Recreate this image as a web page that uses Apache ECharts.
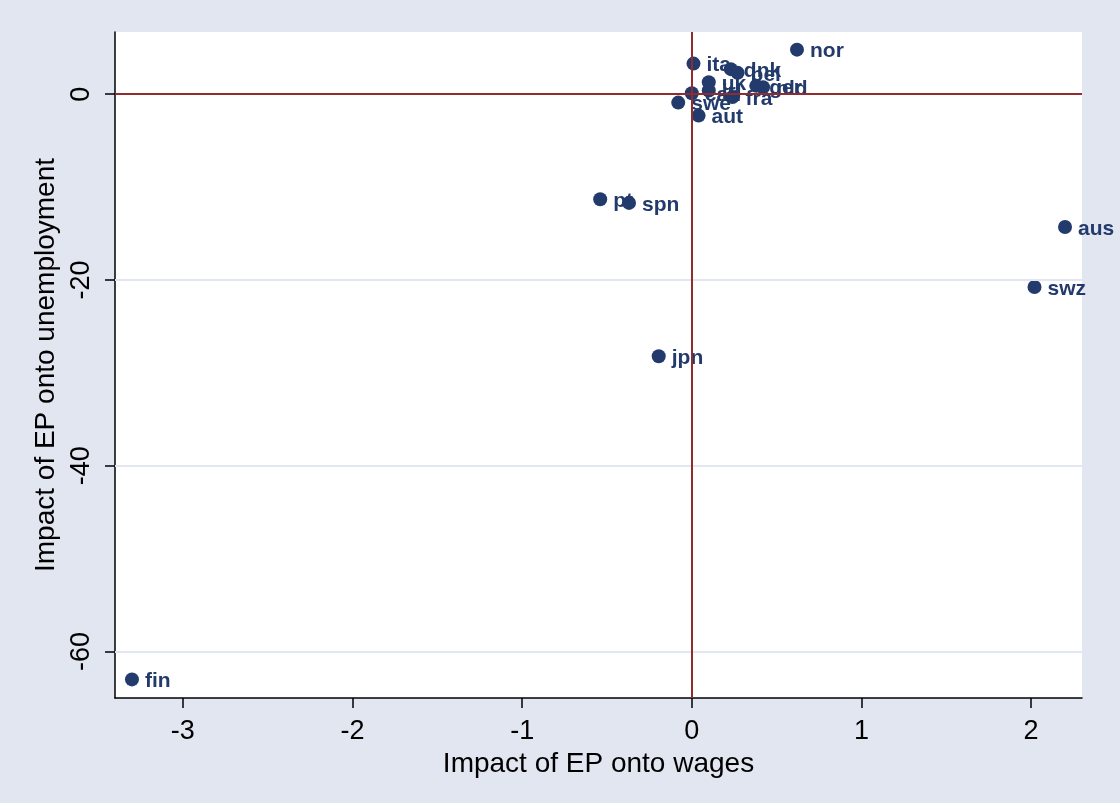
<!DOCTYPE html>
<html>
<head>
<meta charset="UTF-8">
<title>EP impact</title>
<script src="https://cdn.jsdelivr.net/npm/echarts@6/dist/echarts.min.js"></script>
<style>
	html,body{margin:0;padding:0;background:#e1e6f0;}
	#chart{width:1120px;height:803px;}
</style>
</head>
<body>
<div id="chart"></div>
<script>
	// country codes and the two estimated impacts
	var countries = ["ita","dnk","bel","uk","ger","nld","can","irl","fra","swe","aut","nor","pt","spn","jpn","aus","swz","fin"];
	var wageImpact = [0.01,0.23,0.27,0.10,0.38,0.42,0.00,0.10,0.24,-0.08,0.04,0.62,-0.54,-0.37,-0.195,2.20,2.02,-3.30];
	var unempImpact = [3.3,2.7,2.3,1.3,0.9,0.75,0.1,0.4,-0.3,-0.9,-2.3,4.8,-11.3,-11.7,-28.2,-14.3,-20.75,-63.0];
	var xTicks = [-3,-2,-1,0,1,2];
	var yTicks = [-60,-40,-20,0];
	var yGrid = [-20,-40,-60];

	var pts = [];
	for(var i=0;i<countries.length;i++){
		pts.push({value:[wageImpact[i],unempImpact[i]],name:countries[i]});
	}
	var gridLines = [];
	for(var j=0;j<yGrid.length;j++){
		gridLines.push({yAxis:yGrid[j]});
	}

	var myChart = echarts.init(document.getElementById("chart"));
	var txt = "Liberation Sans, Arial, sans-serif";
	var option = {
		backgroundColor:"#e1e6f0",
		animation:false,
		grid:{left:115,right:38,top:32,bottom:105,show:true,backgroundColor:"#ffffff",borderWidth:0},
		xAxis:{
			type:"value",min:-3.4,max:2.3,
			name:"Impact of EP onto wages",nameLocation:"middle",nameGap:50,
			nameTextStyle:{fontFamily:txt,fontSize:28,color:"#000"},
			axisLine:{onZero:false,lineStyle:{color:"#000",width:1.5}},
			axisTick:{show:true,length:10,customValues:xTicks,lineStyle:{color:"#000",width:1.5}},
			axisLabel:{customValues:xTicks,fontFamily:txt,fontSize:27,color:"#000",margin:20},
			splitLine:{show:false}
		},
		yAxis:{
			type:"value",min:-65,max:6.7,
			name:"Impact of EP onto unemployment",nameLocation:"middle",nameGap:48,nameRotate:90,
			nameTextStyle:{fontFamily:txt,fontSize:28,color:"#000"},
			axisLine:{onZero:false,lineStyle:{color:"#000",width:1.5}},
			axisTick:{show:true,length:10,customValues:yTicks,lineStyle:{color:"#000",width:1.5}},
			axisLabel:{customValues:yTicks,rotate:90,fontFamily:txt,fontSize:27,color:"#000",margin:20},
			splitLine:{show:false}
		},
		series:[{
			type:"line",data:[],z:1,
			markLine:{silent:true,symbol:"none",label:{show:false},
				lineStyle:{color:"#e1e6f0",width:2,type:"solid"},data:gridLines}
		},{
			type:"line",data:[],z:2,
			markLine:{silent:true,symbol:"none",label:{show:false},
				lineStyle:{color:"#902c2c",width:2,type:"solid"},data:[{xAxis:0},{yAxis:0}]}
		},{
			type:"scatter",z:3,
			symbolSize:14,
			itemStyle:{color:"#223a6c",opacity:1},
			label:{show:true,position:"right",distance:6,offset:[0,2],formatter:"{b}",
				fontFamily:txt,fontWeight:"bold",fontSize:21,color:"#223a6c"},
			data:pts
		}]
	};
	myChart.setOption(option);
</script>
</body>
</html>
